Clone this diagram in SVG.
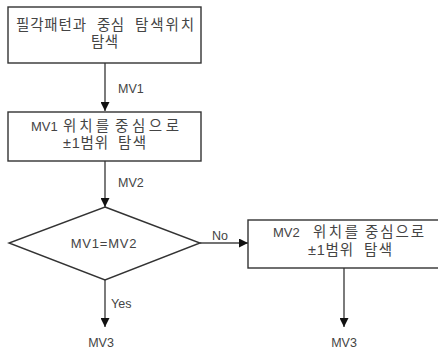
<svg xmlns="http://www.w3.org/2000/svg" width="438" height="349" viewBox="0 0 438 349">
<defs>
<marker id="ah" viewBox="0 0 10 10" refX="10" refY="5" markerWidth="9" markerHeight="9" markerUnits="userSpaceOnUse" orient="auto">
<path d="M0,0 L10,5 L0,10 Z" fill="#111"/>
</marker>
</defs>
<style>
.shape{fill:#fff;stroke:#333;stroke-width:1.4}
.t{font-family:"Liberation Sans","Noto Sans CJK KR",sans-serif;font-size:14.5px;fill:#444}
.l{font-family:"Liberation Sans","Noto Sans CJK KR",sans-serif;font-size:12.5px;fill:#444}
.c{stroke:#444;stroke-width:1.4;fill:none;marker-end:url(#ah)}
</style>
<rect width="438" height="349" fill="#fff"/>
<g id="connectors">
<line class="c" x1="105" y1="63" x2="105" y2="111"/>
<line class="c" x1="105" y1="161" x2="105" y2="207"/>
<line class="c" x1="105" y1="280" x2="105" y2="327"/>
<line class="c" x1="200" y1="243" x2="248" y2="243"/>
<line class="c" x1="344" y1="268" x2="344" y2="327"/>
<text class="l" x="118" y="93">MV1</text>
<text class="l" x="118" y="187">MV2</text>
<text class="l" x="111" y="308">Yes</text>
<text class="l" x="212" y="240">No</text>
<text class="l" x="101" y="347" text-anchor="middle">MV3</text>
<text class="l" x="344" y="347" text-anchor="middle">MV3</text>
</g>
<g id="node1">
<rect class="shape" x="8" y="7" width="193" height="56"/>
<text class="t" y="30"><tspan x="16" textLength="70" lengthAdjust="spacing">필각패턴과</tspan> <tspan x="97" textLength="27" lengthAdjust="spacing">중심</tspan> <tspan x="135" textLength="59" lengthAdjust="spacing">탐색위치</tspan></text>
<text class="t" x="91" y="47" textLength="27" lengthAdjust="spacing">탐색</text>
</g>
<g id="node2">
<rect class="shape" x="8" y="112" width="193" height="49"/>
<text class="t" y="131"><tspan x="31" style="font-size:13px">MV1</tspan> <tspan x="63" textLength="46" lengthAdjust="spacing">위치를</tspan> <tspan x="115" textLength="64" lengthAdjust="spacing">중심으로</tspan></text>
<text class="t" y="148"><tspan x="63" textLength="45" lengthAdjust="spacing">±1범위</tspan> <tspan x="118" textLength="28" lengthAdjust="spacing">탐색</tspan></text>
</g>
<g id="decision">
<polygon class="shape" points="105,207 200,243 105,280 9,243"/>
<text class="l" x="104" y="248" text-anchor="middle" style="font-size:13px;letter-spacing:0.8px">MV1=MV2</text>
</g>
<g id="node3">
<rect class="shape" x="248" y="220" width="195" height="48"/>
<text class="t" y="237"><tspan x="273" style="font-size:13px">MV2</tspan> <tspan x="313" textLength="45" lengthAdjust="spacing">위치를</tspan> <tspan x="365" textLength="59" lengthAdjust="spacing">중심으로</tspan></text>
<text class="t" y="255"><tspan x="308" textLength="45" lengthAdjust="spacing">±1범위</tspan> <tspan x="364" textLength="28" lengthAdjust="spacing">탐색</tspan></text>
</g>
</svg>
